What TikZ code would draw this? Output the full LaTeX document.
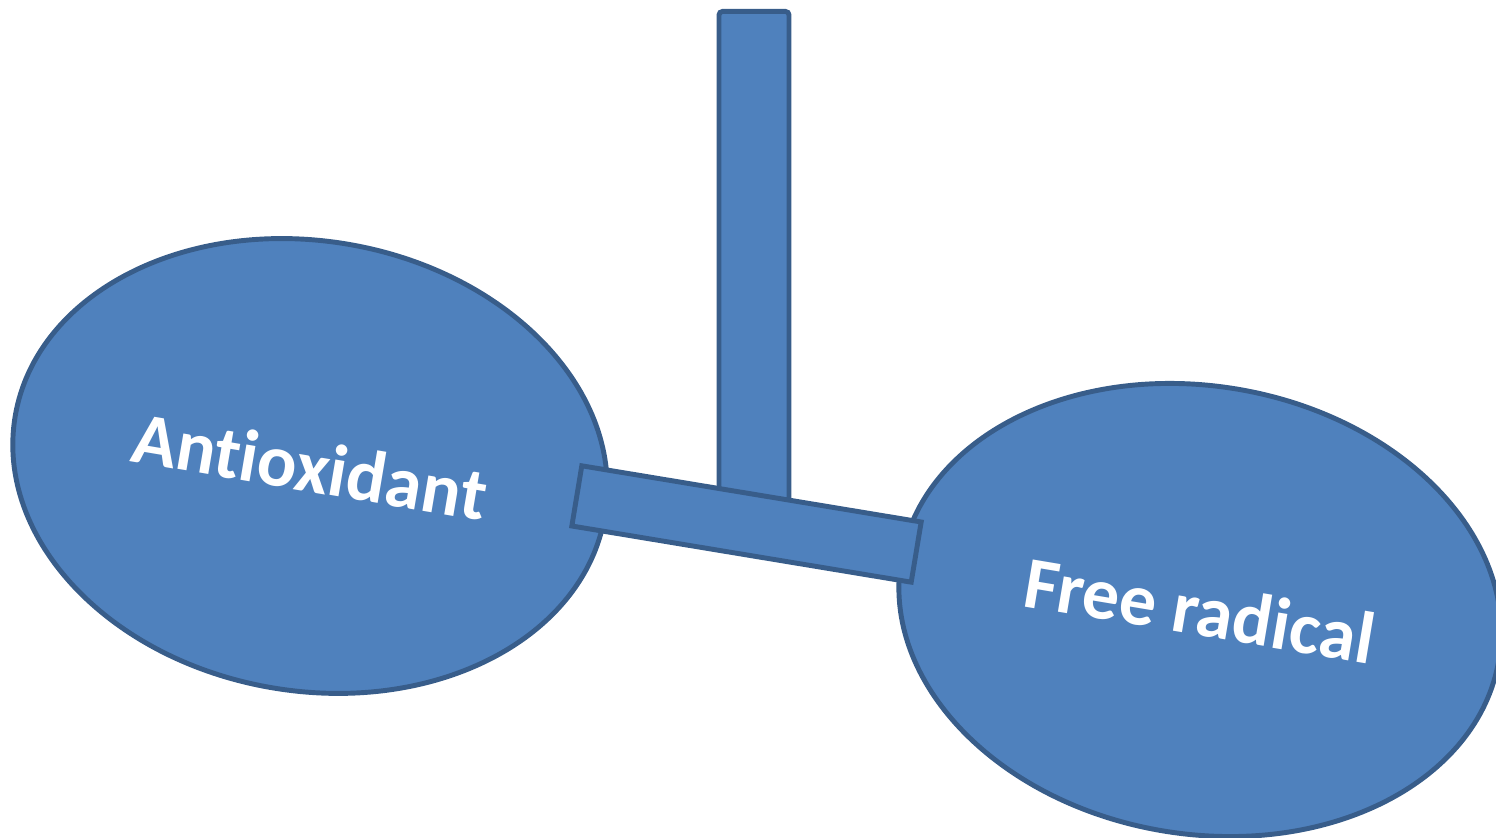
\documentclass[tikz,border=0pt]{standalone}
\usepackage{fontspec}
\newfontfamily\labelfont[Extension=.ttf,Ligatures=NoCommon]{Carlito-Bold}
\usetikzlibrary{shapes.geometric}
\definecolor{barfill}{HTML}{4F81BD}
\definecolor{barline}{HTML}{385D8A}
\tikzset{blob/.style={ellipse,draw=barline,fill=barfill,line width=1.4pt,inner sep=0pt,
    text=white,font=\labelfont\fontsize{21}{25}\selectfont}}
\tikzset{plank/.style={rectangle,draw=barline,fill=barfill,line width=1.4pt,inner sep=0pt}}

\begin{document}
\begin{tikzpicture}
  \useasboundingbox (0,0) rectangle (14.96,8.38);

  % the two sides
  \node[blob,minimum width=5.98cm,minimum height=4.50cm,rotate=-9.6]
    (anti) at (3.10,3.72) {Antioxidant};
  \node[blob,minimum width=6.06cm,minimum height=4.48cm,rotate=-9.5]
    (radical) at (12.00,2.28) {Free radical};

  % post and beam
  \node[plank,rounded corners=1pt,minimum width=0.70cm,minimum height=4.9cm,anchor=north]
    (post) at (7.54,8.29) {};
  \node[plank,minimum width=3.44cm,minimum height=0.61cm,rotate=-9.4]
    (beam) at (7.465,3.14) {};
\end{tikzpicture}
\end{document}
